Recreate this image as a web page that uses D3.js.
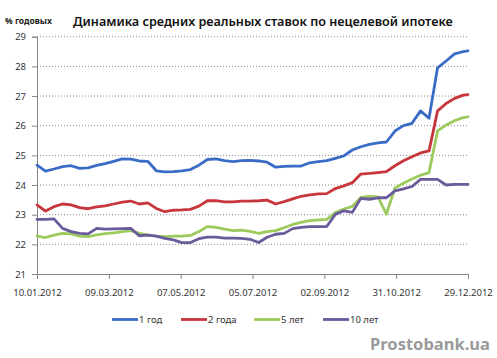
<!DOCTYPE html>
<html>
<head>
<meta charset="utf-8">
<script src="https://cdn.jsdelivr.net/npm/d3@7/dist/d3.min.js"></script>
<style>
  html, body { margin: 0; padding: 0; background: #fff; }
  svg { display: block; }
  text { font-family: "Noto Sans", "Open Sans", sans-serif; }
</style>
</head>
<body>
<svg id="chart" width="497" height="358"></svg>
<script>
// ---- data ----
const dates = [
  "10.01.2012","17.01.2012","24.01.2012","31.01.2012","07.02.2012","14.02.2012","21.02.2012","28.02.2012",
  "06.03.2012","13.03.2012","20.03.2012","27.03.2012","03.04.2012","10.04.2012","17.04.2012","24.04.2012",
  "01.05.2012","08.05.2012","15.05.2012","22.05.2012","29.05.2012","05.06.2012","12.06.2012","19.06.2012",
  "26.06.2012","03.07.2012","10.07.2012","17.07.2012","24.07.2012","31.07.2012","07.08.2012","14.08.2012",
  "21.08.2012","28.08.2012","04.09.2012","11.09.2012","18.09.2012","25.09.2012","02.10.2012","09.10.2012",
  "16.10.2012","23.10.2012","30.10.2012","06.11.2012","13.11.2012","20.11.2012","27.11.2012","04.12.2012",
  "11.12.2012","18.12.2012","25.12.2012","29.12.2012"
];
const year1 = [
  24.67,24.47,24.54,24.62,24.65,24.56,24.58,24.66,24.72,24.80,24.88,24.87,24.81,24.80,24.48,24.44,
  24.45,24.48,24.52,24.67,24.86,24.88,24.82,24.79,24.82,24.83,24.81,24.77,24.60,24.63,24.64,24.64,
  24.75,24.79,24.82,24.90,24.98,25.18,25.29,25.37,25.42,25.45,25.82,26.00,26.08,26.50,26.25,27.95,
  28.18,28.42,28.50,28.52
];
const year2 = [
  23.33,23.12,23.27,23.36,23.33,23.24,23.20,23.26,23.30,23.36,23.42,23.46,23.36,23.40,23.21,23.10,
  23.15,23.16,23.18,23.29,23.47,23.47,23.43,23.43,23.46,23.46,23.47,23.49,23.36,23.44,23.53,23.62,
  23.67,23.70,23.71,23.88,23.97,24.08,24.37,24.39,24.42,24.45,24.65,24.82,24.95,25.08,25.15,26.50,
  26.75,26.92,27.03,27.05
];
const year5 = [
  22.28,22.23,22.31,22.37,22.35,22.28,22.26,22.32,22.36,22.39,22.43,22.46,22.37,22.32,22.28,22.26,
  22.28,22.28,22.30,22.43,22.60,22.57,22.51,22.46,22.48,22.44,22.37,22.43,22.46,22.56,22.67,22.74,
  22.80,22.82,22.84,23.07,23.19,23.28,23.58,23.62,23.60,23.02,23.90,24.06,24.20,24.33,24.42,25.83,
  26.02,26.17,26.27,26.30
];
const year10 = [
  22.84,22.84,22.86,22.54,22.43,22.37,22.35,22.54,22.51,22.52,22.53,22.54,22.29,22.31,22.28,22.20,
  22.15,22.06,22.06,22.19,22.24,22.24,22.21,22.21,22.20,22.17,22.06,22.24,22.34,22.37,22.53,22.57,
  22.60,22.60,22.60,23.01,23.13,23.08,23.55,23.52,23.57,23.57,23.80,23.87,23.95,24.19,24.19,24.19,
  24.00,24.02,24.02,24.02
];
const seriesNames = ["1 год", "2 года", "5 лет", "10 лет"];
const seriesColors = ["#3a6cc6", "#c7363a", "#9cca5c", "#6a5c9c"];
const xTickLabels = ["10.01.2012","09.03.2012","07.05.2012","05.07.2012","02.09.2012","31.10.2012","29.12.2012"];
const yTicks = [21, 22, 23, 24, 25, 26, 27, 28, 29];
const titleText = "Динамика средних реальных ставок по нецелевой ипотеке";
const unitText = "% годовых";
const watermark = "Prostobank.ua";

// ---- chart ----
const parse = d3.utcParse("%d.%m.%Y");
const svg = d3.select("#chart");
const plotLeft = 37, plotRight = 468, plotTop = 36.7, plotBottom = 274;

const x = d3.scaleUtc()
  .domain([parse(dates[0]), parse(dates[dates.length - 1])])
  .range([plotLeft, plotRight]);
const y = d3.scaleLinear().domain([21, 29]).range([plotBottom, plotTop]);

// gridlines
svg.append("g")
  .selectAll("line")
  .data(yTicks.filter(v => v > 21))
  .join("line")
  .attr("x1", plotLeft).attr("x2", plotRight)
  .attr("y1", d => y(d)).attr("y2", d => y(d))
  .attr("stroke", "#8a8a8a")
  .attr("stroke-width", 1)
  .attr("stroke-dasharray", "1,2");

// y axis
const yAxis = svg.append("g")
  .attr("transform", `translate(${plotLeft},0)`)
  .call(d3.axisLeft(y).tickValues(yTicks).tickSize(5).tickPadding(6).tickFormat(d3.format("d")));
yAxis.select(".domain").attr("stroke", "#868686");
yAxis.selectAll(".tick line").attr("stroke", "#868686");
yAxis.selectAll(".tick text")
  .attr("fill", "#333")
  .style("font-size", "9.5px");

// x axis
const xAxis = svg.append("g")
  .attr("transform", `translate(0,${plotBottom})`)
  .call(d3.axisBottom(x).tickValues(xTickLabels.map(parse)).tickSize(5).tickPadding(10)
    .tickFormat(d3.utcFormat("%d.%m.%Y")));
xAxis.select(".domain").attr("stroke", "#868686");
xAxis.selectAll(".tick line").attr("stroke", "#868686");
xAxis.selectAll(".tick text")
  .attr("fill", "#333")
  .style("font-size", "9.5px");

// lines
const allSeries = [year1, year2, year5, year10];
const line = d3.line()
  .x((d, i) => x(parse(dates[i])))
  .y(d => y(d));
svg.append("g")
  .selectAll("path")
  .data(allSeries)
  .join("path")
  .attr("fill", "none")
  .attr("stroke", (d, i) => seriesColors[i])
  .attr("stroke-width", 2.8)
  .attr("stroke-linejoin", "round")
  .attr("stroke-linecap", "round")
  .attr("d", line);

// title
const title = svg.append("text")
  .attr("x", 73).attr("y", 26)
  .attr("fill", "#111")
  .style("font-size", "14px")
  .style("font-weight", "600")
  .text(titleText);
const tw = title.node().getComputedTextLength();
title.style("font-size", (14 * 380 / tw).toFixed(2) + "px");

svg.append("text")
  .attr("x", 5).attr("y", 24)
  .attr("fill", "#222")
  .style("font-size", "8.5px")
  .style("font-weight", "700")
  .text(unitText);

// legend
const legendX = [112, 181, 254, 323];
const lg = svg.append("g")
  .selectAll("g")
  .data(seriesNames)
  .join("g")
  .attr("transform", (d, i) => `translate(${legendX[i]},319.5)`);
lg.append("line")
  .attr("x1", 0).attr("x2", 26)
  .attr("stroke", (d, i) => seriesColors[i])
  .attr("stroke-width", 2.8);
lg.append("text")
  .attr("x", 27).attr("y", 3.5)
  .attr("fill", "#333")
  .style("font-size", "9.5px")
  .text(d => d);

// watermark
const wm = svg.append("text")
  .attr("x", 370).attr("y", 350)
  .attr("fill", "#9a9a9a")
  .style("font-size", "16px")
  .style("font-weight", "700")
  .text(watermark);
const ww = wm.node().getComputedTextLength();
wm.style("font-size", (16 * 120 / ww).toFixed(2) + "px");
</script>
</body>
</html>
